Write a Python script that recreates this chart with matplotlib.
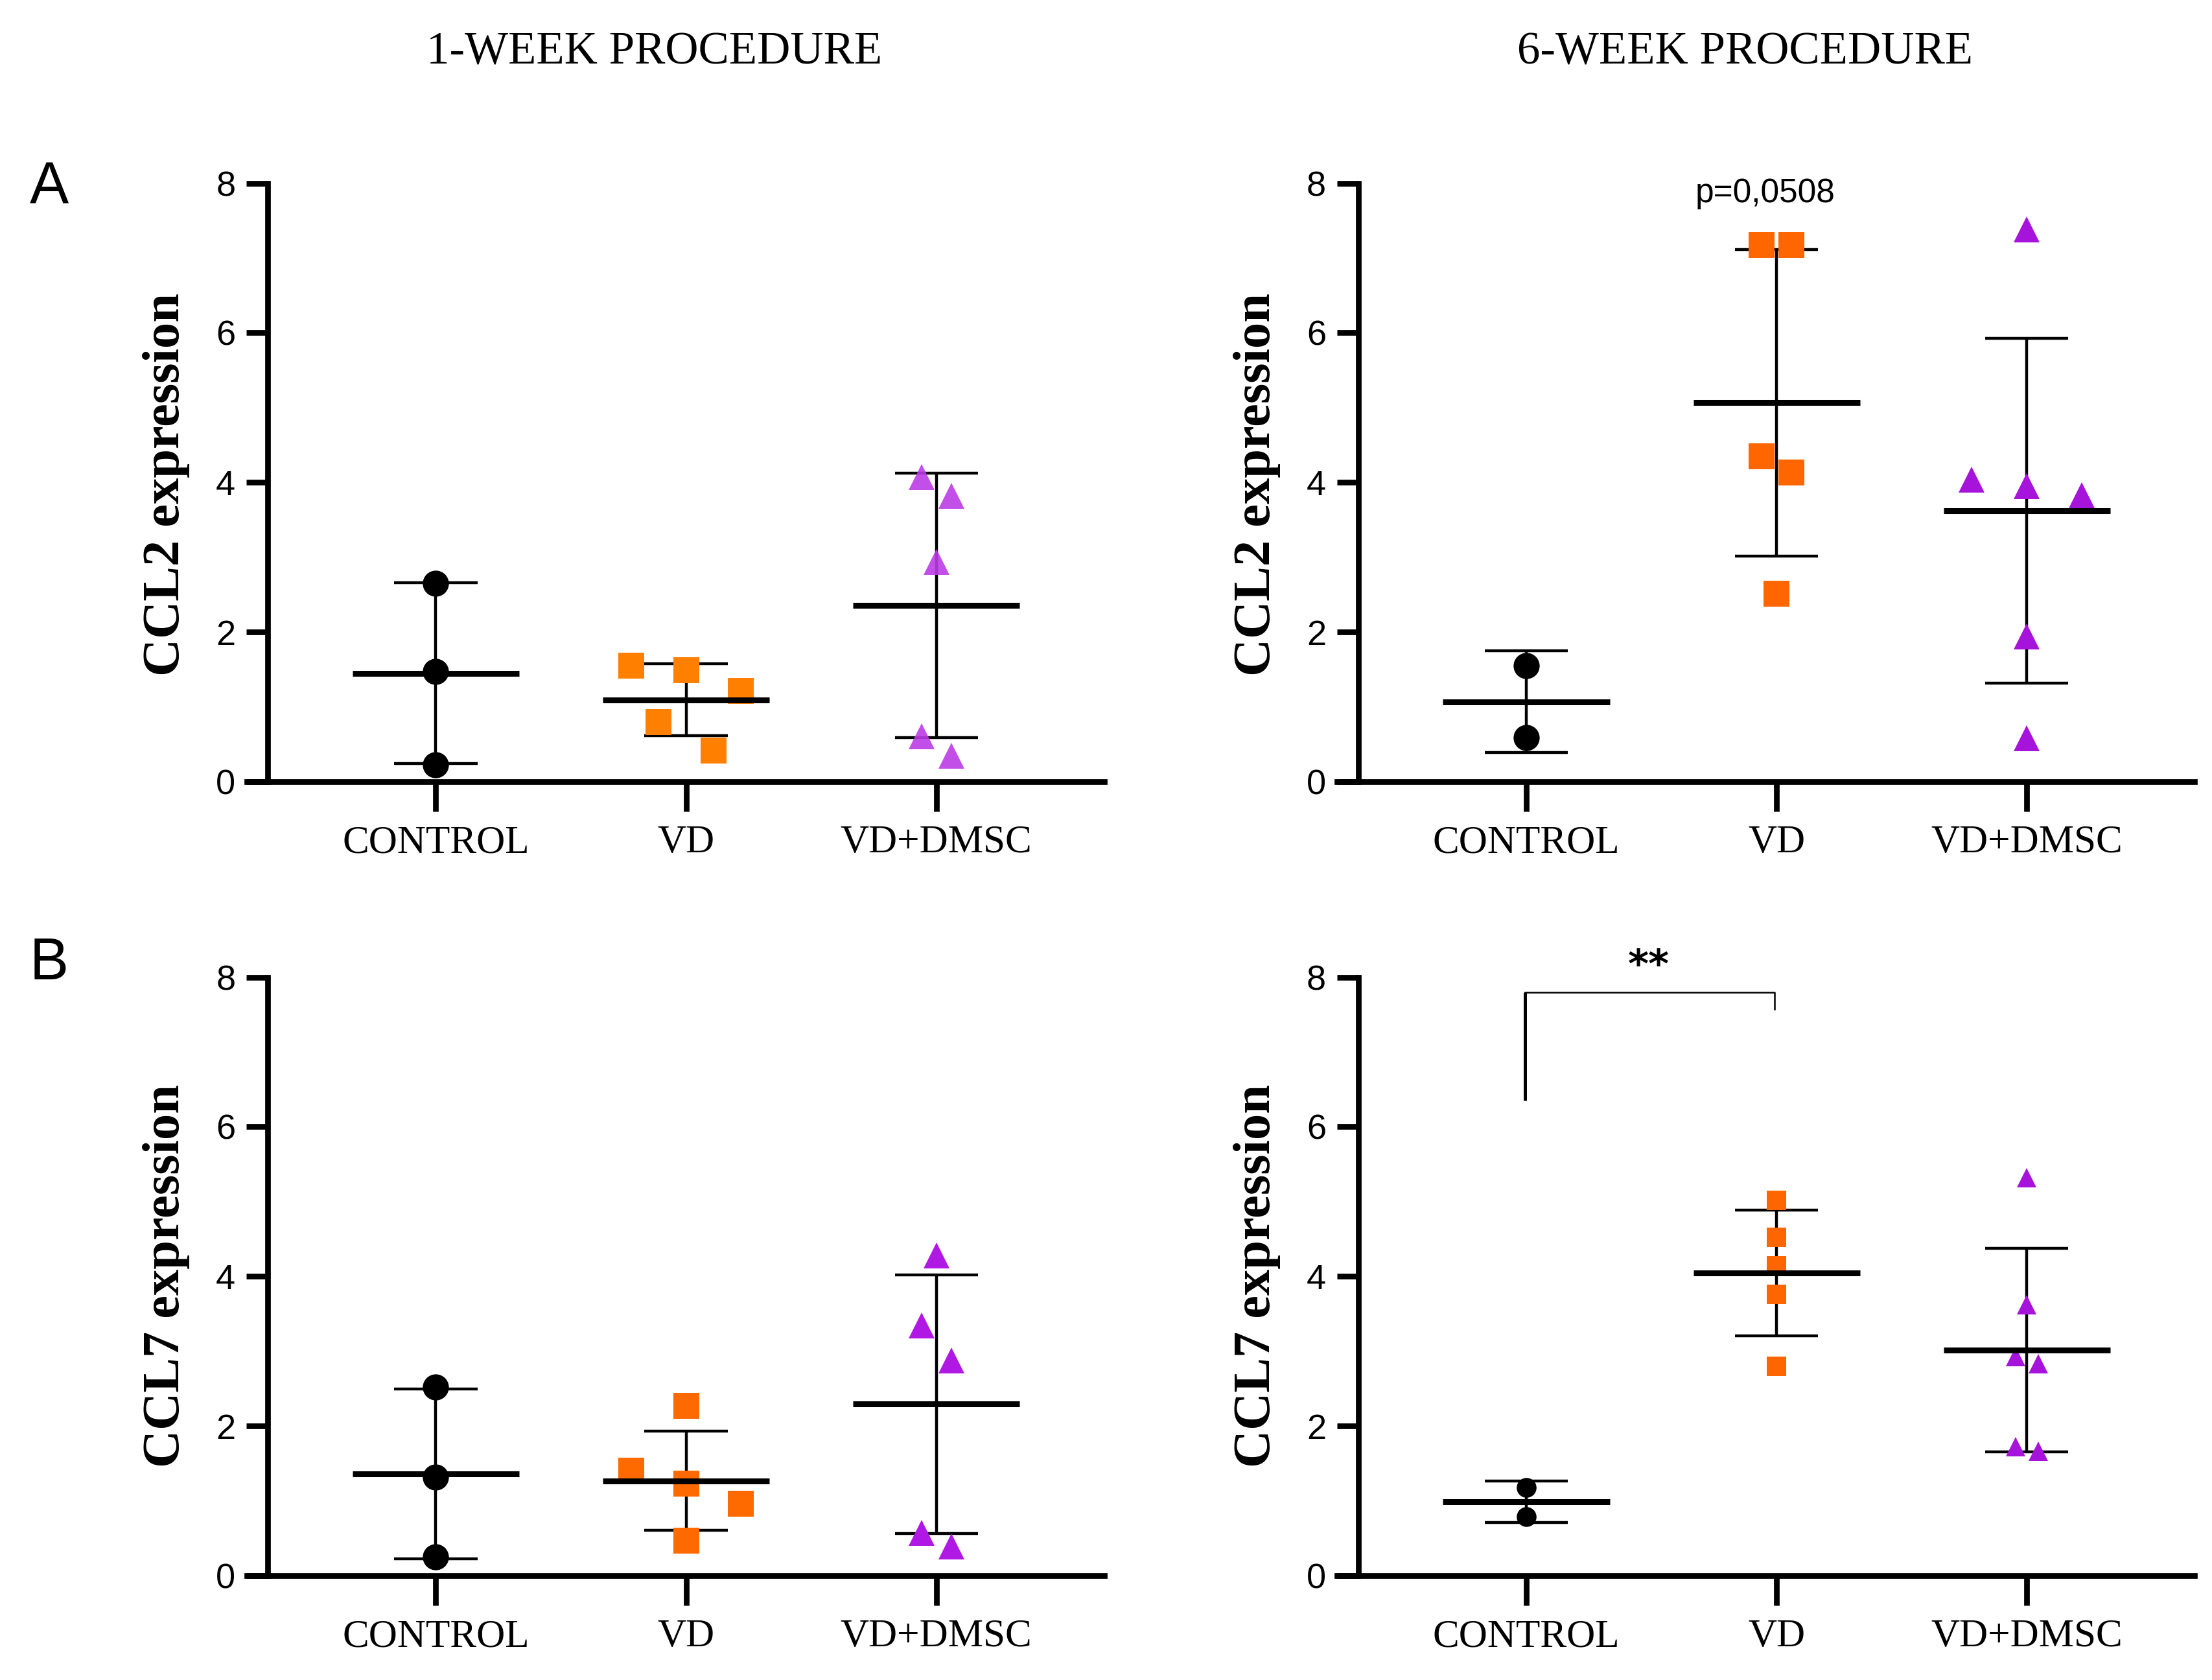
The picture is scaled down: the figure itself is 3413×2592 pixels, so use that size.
import numpy as np
import matplotlib.pyplot as plt

plt.rcParams['font.family'] = ['Liberation Sans', 'DejaVu Sans']

groups = ['CONTROL', 'VD', 'VD+DMSC']

# CCL2, 1 week
ccl2_w1_control = [2.65, 1.47, 0.23]
ccl2_w1_vd = [1.55, 1.49, 1.21, 0.80, 0.42]
ccl2_w1_dmsc = [4.07, 3.82, 2.94, 0.61, 0.35]
# CCL2, 6 weeks
ccl2_w6_control = [1.55, 0.59]
ccl2_w6_vd = [7.17, 7.17, 4.35, 4.13, 2.51]
ccl2_w6_dmsc = [7.38, 4.04, 3.95, 3.83, 1.94, 0.58]
# CCL7, 1 week
ccl7_w1_control = [2.52, 1.32, 0.25]
ccl7_w1_vd = [2.27, 1.40, 1.23, 0.96, 0.47]
ccl7_w1_dmsc = [4.28, 3.34, 2.88, 0.57, 0.39]
# CCL7, 6 weeks
ccl7_w6_control = [1.18, 0.79]
ccl7_w6_vd = [5.02, 4.52, 4.14, 3.76, 2.80]
ccl7_w6_dmsc = [5.32, 3.62, 2.93, 2.83, 1.72, 1.66]

# horizontal spread of the dots (like Prism scatter)
j_w1_control = [0, 0, 0]
j_w1_vd = [-0.22, 0, 0.22, -0.11, 0.11]
j_w1_dmsc = [-0.06, 0.06, 0, -0.06, 0.06]
j_w6_control = [0, 0]
j_ccl2_w6_vd = [-0.06, 0.06, -0.06, 0.06, 0]
j_ccl2_w6_dmsc = [0, -0.22, 0, 0.22, 0, 0]
j_ccl7_w1_vd = [0, -0.22, 0, 0.22, 0]
j_ccl7_w1_dmsc = [0, -0.06, 0.06, -0.06, 0.06]
j_ccl7_w6_vd = [0, 0, 0, 0, 0]
j_ccl7_w6_dmsc = [0, 0, -0.046, 0.046, -0.046, 0.046]

fig = plt.figure(figsize=(34.13, 25.92), dpi=100)

W = 0.3876
H = 0.3563
pos = {
    'tl': [0.1116, 0.5347, W, H],
    'tr': [0.6046, 0.5347, W, H],
    'bl': [0.1116, 0.0621, W, H],
    'br': [0.6046, 0.0621, W, H],
}


def draw_panel(ax, data, jit, colors, ms, tri_alpha=1.0):
    markers = ['o', 's', '^']
    for i, (vals, offs) in enumerate(zip(data, jit)):
        v = np.array(vals)
        m = v.mean()
        sd = v.std(ddof=1)
        ax.vlines(i, m - sd, m + sd, color='black', lw=3.2, zorder=2)
        ax.hlines([m - sd, m + sd], i - 0.166, i + 0.166, color='black', lw=3.2, zorder=2)
        ax.hlines(m, i - 0.333, i + 0.333, color='black', lw=6.5, zorder=4)
        a = tri_alpha if markers[i] == '^' else 1.0
        ax.plot(i + np.array(offs), v, linestyle='none', marker=markers[i], ms=ms,
                color=colors[i], markeredgewidth=0, alpha=a, zorder=3, clip_on=False)

    ax.set_xlim(-0.755, 2.671)
    ax.set_ylim(0, 8)
    ax.spines['top'].set_visible(False)
    ax.spines['right'].set_visible(False)
    ax.spines['left'].set_position(('data', -0.671))
    ax.spines['left'].set_bounds(0, 8)
    for s in ['left', 'bottom']:
        ax.spines[s].set_linewidth(6.3)
    ax.set_yticks([0, 2, 4, 6, 8])
    ax.set_xticks(range(len(groups)))
    ax.set_xticklabels(groups, family='Liberation Serif', fontsize=44)
    ax.tick_params(axis='y', direction='out', length=24, width=6.3, pad=12, labelsize=39)
    ax.tick_params(axis='x', direction='out', length=33, width=6.3, pad=15)
    ax.patch.set_visible(False)


c_w1 = ['black', '#FF8000', '#BB3CE6']
c_w6 = ['black', '#FF6600', '#A614DC']

ax1 = fig.add_axes(pos['tl'])
draw_panel(ax1, [ccl2_w1_control, ccl2_w1_vd, ccl2_w1_dmsc],
           [j_w1_control, j_w1_vd, j_w1_dmsc], c_w1, 29, tri_alpha=0.9)

ax2 = fig.add_axes(pos['tr'])
draw_panel(ax2, [ccl2_w6_control, ccl2_w6_vd, ccl2_w6_dmsc],
           [j_w6_control, j_ccl2_w6_vd, j_ccl2_w6_dmsc], c_w6, 29)
ax2.text(0.954, 7.86, 'p=0,0508', ha='center', va='center', fontsize=37)

ax3 = fig.add_axes(pos['bl'])
draw_panel(ax3, [ccl7_w1_control, ccl7_w1_vd, ccl7_w1_dmsc],
           [j_w1_control, j_ccl7_w1_vd, j_ccl7_w1_dmsc], ['black', '#FF6A00', '#B019E3'], 29)

ax4 = fig.add_axes(pos['br'])
draw_panel(ax4, [ccl7_w6_control, ccl7_w6_vd, ccl7_w6_dmsc],
           [j_w6_control, j_ccl7_w6_vd, j_ccl7_w6_dmsc], c_w6, 22)
# significance bracket CONTROL vs VD
ax4.plot([-0.005, -0.005], [6.35, 7.80], color='black', lw=3.6, solid_capstyle='butt', clip_on=False)
ax4.plot([-0.005, 0.992, 0.992], [7.80, 7.80, 7.57], color='black', lw=1.8, clip_on=False)
ax4.text(0.49, 8.14, '**', ha='center', va='center', fontsize=44, family='DejaVu Sans',
         fontweight='bold', clip_on=False)

# column titles, panel letters, y labels
fig.text(0.2959, 0.9689, '1-WEEK PROCEDURE', ha='center', va='center',
         family='Liberation Serif', fontsize=51)
fig.text(0.7888, 0.9689, '6-WEEK PROCEDURE', ha='center', va='center',
         family='Liberation Serif', fontsize=51)
fig.text(0.0223, 0.8881, 'A', ha='center', va='center', fontsize=65)
fig.text(0.0223, 0.4263, 'B', ha='center', va='center', fontsize=65)

for x in [0.0753, 0.5683]:
    fig.text(x, 0.7118, 'CCL2 expression', rotation=90, ha='center', va='center',
             family='Liberation Serif', fontweight='bold', fontsize=58)
    fig.text(x, 0.2404, 'CCL7 expression', rotation=90, ha='center', va='center',
             family='Liberation Serif', fontweight='bold', fontsize=58)

fig.savefig('out.png', dpi=100, facecolor='white')
